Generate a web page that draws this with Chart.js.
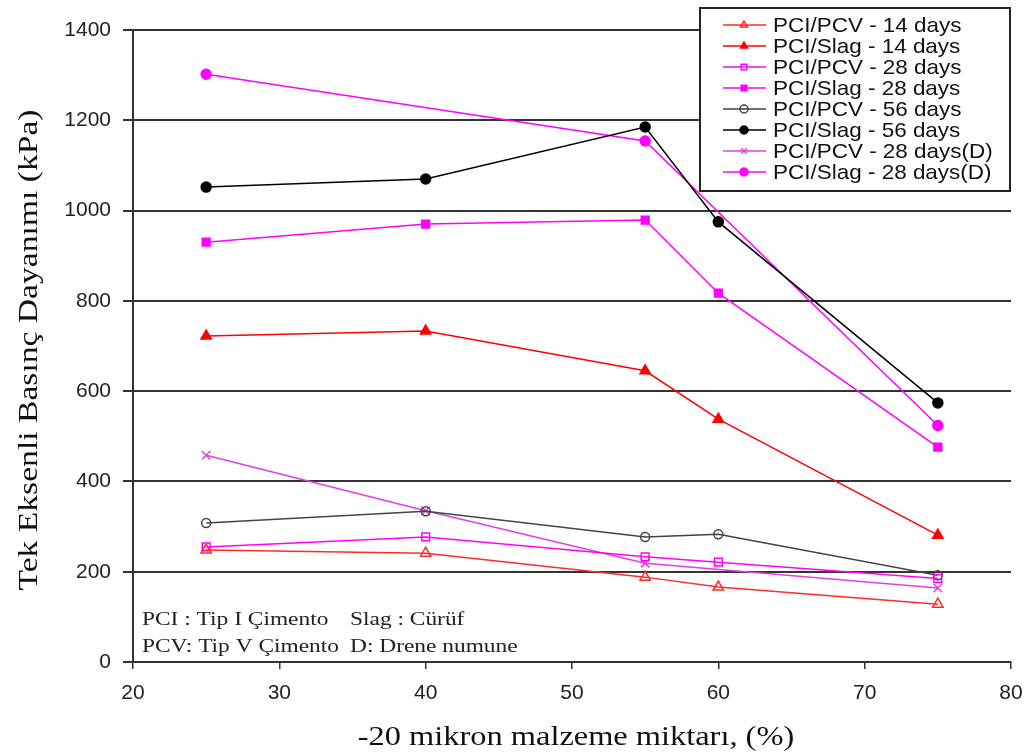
<!DOCTYPE html>
<html>
<head>
<meta charset="utf-8">
<script src="https://cdn.jsdelivr.net/npm/chart.js@4/dist/chart.umd.min.js"></script>
<style>
  html, body { margin: 0; padding: 0; background: #fff; }
  #wrap { width: 1030px; height: 756px; }
</style>
</head>
<body>
<div id="wrap"><canvas id="strengthChart" width="1030" height="756"></canvas></div>
<script>
// x values (% of -20 micron material)
const xAll = [25, 40, 55, 60, 75];

const pcvDay14 = [248, 241, 188, 166, 128];
const slagDay14 = [722, 733, 645, 538, 281];
const pcvDay28 = [255, 277, 233, 221, 185];
const slagDay28 = [930, 970, 979, 817, 476];
const pcvDay56 = [308, 334, 277, 283, 192];
const slagDay56 = [1052, 1070, 1185, 975, 574];
const xPcvDrained = [25, 40, 55, 75];
const pcvDay28D = [458, 335, 219, 164];
const xSlagDrained = [25, 55, 75];
const slagDay28D = [1302, 1154, 524];

const yTicks = [0, 200, 400, 600, 800, 1000, 1200, 1400];
const xTicks = [20, 30, 40, 50, 60, 70, 80];

const toPoints = (xs, ys) => xs.map((x, i) => ({ x: x, y: ys[i] }));

const series = [
  { label: "PCI/PCV - 14 days", xs: xAll, ys: pcvDay14, color: "#ff2a2a", style: "triangle", fill: false, r: 6 },
  { label: "PCI/Slag - 14 days", xs: xAll, ys: slagDay14, color: "#ff0000", style: "triangle", fill: true, r: 6 },
  { label: "PCI/PCV - 28 days", xs: xAll, ys: pcvDay28, color: "#ff00ff", style: "rect", fill: false, r: 5.5 },
  { label: "PCI/Slag - 28 days", xs: xAll, ys: slagDay28, color: "#ff00ff", style: "rect", fill: true, r: 5.5 },
  { label: "PCI/PCV - 56 days", xs: xAll, ys: pcvDay56, color: "#444444", style: "circle", fill: false, r: 4.5 },
  { label: "PCI/Slag - 56 days", xs: xAll, ys: slagDay56, color: "#000000", style: "circle", fill: true, r: 5 },
  { label: "PCI/PCV - 28 days(D)", xs: xPcvDrained, ys: pcvDay28D, color: "#e040e0", style: "crossRot", fill: false, r: 6 },
  { label: "PCI/Slag - 28 days(D)", xs: xSlagDrained, ys: slagDay28D, color: "#ff00ff", style: "circle", fill: true, r: 5 }
];

const datasets = series.map(s => ({
  label: s.label,
  data: toPoints(s.xs, s.ys),
  borderColor: s.color,
  backgroundColor: s.fill ? s.color : "#ffffff",
  pointStyle: s.style,
  pointRadius: s.r,
  pointBorderWidth: 1.5,
  pointBorderColor: s.color,
  pointBackgroundColor: s.fill ? s.color : "rgba(255,255,255,0)",
  borderWidth: 1.5,
  tension: 0,
  fill: false
}));

// serif text in the original is stretched along the reading direction
function stretchedText(c, text, x, y, size, align, angle) {
  c.save();
  c.translate(x, y);
  if (angle) c.rotate(angle);
  c.scale(1.2, 1);
  c.font = size + "px 'Liberation Serif', 'Times New Roman', serif";
  c.textAlign = align;
  c.textBaseline = "middle";
  c.fillText(text, 0, 0);
  c.restore();
}

// legend box in the upper right corner, line + marker like the original
const boxLegend = {
  id: "boxLegend",
  afterDraw(chart) {
    const c = chart.ctx;
    const left = 700, top = 8, w = 310, h = 183;
    c.save();
    c.fillStyle = "#fff";
    c.fillRect(left, top, w, h);
    c.strokeStyle = "#222";
    c.lineWidth = 2;
    c.strokeRect(left, top, w, h);
    c.textBaseline = "middle";
    chart.data.datasets.forEach((ds, i) => {
      const y = top + 17 + i * 21;
      c.strokeStyle = ds.borderColor;
      c.lineWidth = 1.5;
      c.beginPath();
      c.moveTo(723, y);
      c.lineTo(766, y);
      c.stroke();
      c.fillStyle = ds.pointBackgroundColor;
      c.strokeStyle = ds.pointBorderColor;
      Chart.helpers.drawPoint(c, {
        pointStyle: ds.pointStyle, radius: 4, rotation: 0, borderWidth: 1.5
      }, 744, y);
      c.fillStyle = "#111";
      c.save();
      c.translate(773, y + 1);
      c.scale(1.07, 1);
      c.font = "21px 'Liberation Sans', Arial, sans-serif";
      c.fillText(ds.label, 0, 0);
      c.restore();
    });
    c.restore();
  }
};

// abbreviation note at the bottom left of the plot, and the axis titles
const noteText = {
  id: "noteText",
  afterDraw(chart) {
    const c = chart.ctx;
    const a = chart.chartArea;
    c.save();
    c.fillStyle = "#222";
    stretchedText(c, "PCI : Tip I Çimento", a.left + 9, a.bottom - 42, 19.5, "left");
    stretchedText(c, "Slag : Cürüf", a.left + 217, a.bottom - 42, 19.5, "left");
    stretchedText(c, "PCV: Tip V Çimento", a.left + 9, a.bottom - 15, 19.5, "left");
    stretchedText(c, "D: Drene numune", a.left + 217, a.bottom - 15, 19.5, "left");
    c.fillStyle = "#111";
    stretchedText(c, "Tek Eksenli Basınç Dayanımı (kPa)", 30, (a.top + a.bottom) / 2 + 4, 28, "center", -Math.PI / 2);
    stretchedText(c, "-20 mikron malzeme miktarı, (%)", 576, 738, 27, "center");
    c.restore();
  }
};

const ctx = document.getElementById("strengthChart").getContext("2d");

new Chart(ctx, {
  type: "line",
  data: { datasets: datasets },
  options: {
    responsive: false,
    animation: false,
    layout: { padding: { top: 30, right: 19, left: 0, bottom: 0 } },
    plugins: {
      legend: { display: false },
      tooltip: { enabled: false }
    },
    scales: {
      x: {
        type: "linear",
        min: 20,
        max: 80,
        afterBuildTicks: axis => { axis.ticks = xTicks.map(v => ({ value: v })); },
        afterFit: axis => { axis.height = 94; axis.paddingRight = 0; axis.paddingLeft = 0; },
        grid: { drawOnChartArea: false, drawTicks: true, tickLength: 7, color: "#333", lineWidth: 1.5 },
        border: { display: true, color: "#333", width: 2 },
        ticks: {
          color: "#222",
          padding: 12,
          callback: v => String(v),
          font: { family: "'Liberation Sans', Arial, sans-serif", size: 21 }
        },
        title: { display: false }
      },
      y: {
        min: 0,
        max: 1400,
        afterBuildTicks: axis => { axis.ticks = yTicks.map(v => ({ value: v })); },
        afterFit: axis => { axis.width = 133; },
        grid: { drawOnChartArea: true, drawTicks: true, tickLength: 10, color: "#333", lineWidth: 2 },
        border: { display: true, color: "#333", width: 2 },
        ticks: {
          color: "#222",
          padding: 12,
          callback: v => String(v),
          font: { family: "'Liberation Sans', Arial, sans-serif", size: 21 }
        },
        title: { display: false }
      }
    }
  },
  plugins: [boxLegend, noteText]
});
</script>
</body>
</html>
